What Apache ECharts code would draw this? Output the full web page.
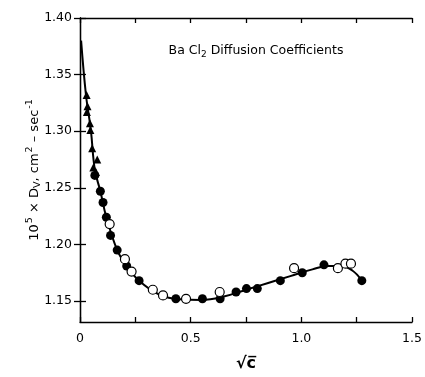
<!DOCTYPE html>
<html>
<head>
<meta charset="utf-8">
<script src="https://cdn.jsdelivr.net/npm/echarts@6/dist/echarts.min.js"></script>
<style>
  html, body { margin: 0; padding: 0; background: #fff; }
  #chart { width: 425px; height: 377px; }
</style>
</head>
<body>
<div id="chart"></div>
<script>
// fitted curve
const curveX = [0.005, 0.027, 0.049, 0.067, 0.092, 0.119, 0.168, 0.211, 0.267, 0.356, 0.45, 0.55, 0.65, 0.75, 0.85, 0.95, 1.05, 1.12, 1.18, 1.23, 1.27]
const curveY = [1.380, 1.332, 1.301, 1.266, 1.247, 1.224, 1.195, 1.181, 1.168, 1.156, 1.1515, 1.151, 1.154, 1.160, 1.166, 1.172, 1.178, 1.181, 1.181, 1.177, 1.169]

// triangles
const triX = [0.030, 0.034, 0.031, 0.045, 0.047, 0.055, 0.078, 0.060, 0.072]
const triY = [1.332, 1.322, 1.317, 1.307, 1.301, 1.285, 1.275, 1.268, 1.264]

// filled circles
const dotX = [0.067, 0.092, 0.104, 0.119, 0.138, 0.168, 0.211, 0.267, 0.433, 0.553, 0.633, 0.705, 0.752, 0.801, 0.905, 1.004, 1.102, 1.273]
const dotY = [1.261, 1.247, 1.237, 1.224, 1.208, 1.195, 1.181, 1.168, 1.152, 1.152, 1.152, 1.158, 1.161, 1.161, 1.168, 1.175, 1.182, 1.168]

// open circles
const openX = [0.134, 0.203, 0.233, 0.329, 0.375, 0.479, 0.631, 0.967, 1.165, 1.199, 1.224]
const openY = [1.218, 1.187, 1.176, 1.160, 1.155, 1.152, 1.158, 1.179, 1.179, 1.183, 1.183]

const xTicks = [0, 0.25, 0.5, 0.75, 1.0, 1.25, 1.5]
const xTickLabels = ['0', '', '0.5', '', '1.0', '', '1.5']
const yTicks = [1.15, 1.20, 1.25, 1.30, 1.35, 1.40]
const yTickLabels = ['1.15', '1.20', '1.25', '1.30', '1.35', '1.40']

const zip = (xs, ys) => xs.map((x, i) => [x, ys[i]])

const font = '"DejaVu Sans", sans-serif'
const black = '#000'
const lineStyle = { color: black, width: 1.3 }

const chart = echarts.init(document.getElementById('chart'))
chart.setOption({
  animation: false,
  grid: { left: 80, right: 8, top: 18, bottom: 54 },
  title: {
    text: 'Ba Cl{sub|2} Diffusion Coefficients',
    left: 251,
    top: 37,
    textAlign: 'center',
    textStyle: {
      fontFamily: font,
      fontSize: 12.5,
      fontWeight: 'normal',
      color: black,
      rich: {
        sub: { fontFamily: font, fontSize: 9, color: black, padding: [8, 0, 0, 0] }
      }
    }
  },
  xAxis: [{
    type: 'value',
    min: 0,
    max: 1.5,
    interval: 0.25,
    splitLine: { show: false },
    axisLine: { lineStyle },
    axisTick: { inside: true, length: 5, lineStyle },
    axisLabel: {
      margin: 10,
      fontFamily: font,
      fontSize: 12.5,
      color: black,
      formatter: v => xTickLabels[xTicks.findIndex(t => Math.abs(t - v) < 1e-6)] || ''
    },
    name: '√c̅',
    nameLocation: 'middle',
    nameGap: 34,
    nameTextStyle: { fontFamily: font, fontSize: 16, fontWeight: 'bold', color: black }
  }, {
    type: 'value',
    position: 'top',
    min: 0,
    max: 1.5,
    interval: 0.25,
    splitLine: { show: false },
    axisLine: { lineStyle },
    axisTick: { inside: true, length: 5, lineStyle },
    axisLabel: { show: false }
  }],
  yAxis: [{
    type: 'value',
    min: 1.1315,
    max: 1.40,
    splitLine: { show: false },
    axisLine: { show: true, lineStyle },
    axisTick: { inside: true, length: 6, lineStyle, customValues: yTicks },
    axisLabel: {
      margin: 8,
      fontFamily: font,
      fontSize: 12.5,
      color: black,
      customValues: yTicks,
      formatter: v => yTickLabels[yTicks.findIndex(t => Math.abs(t - v) < 1e-6)] || ''
    },
    name: '10{sup|5} × D{sub|V}, cm{sup|2} – sec{sup|-1}',
    nameLocation: 'middle',
    nameGap: 36,
    nameMoveOverlap: false,
    nameTextStyle: {
      fontFamily: font,
      fontSize: 13,
      color: black,
      rich: {
        sup: { fontFamily: font, fontSize: 9.5, color: black, padding: [0, 0, 9, 1] },
        sub: { fontFamily: font, fontSize: 9.5, color: black, padding: [7, 0, 0, 0] }
      }
    }
  }, {
    type: 'value',
    position: 'right',
    min: 1.1315,
    max: 1.40,
    splitLine: { show: false },
    axisLine: { show: true, lineStyle },
    axisTick: { inside: true, length: 6, lineStyle, customValues: yTicks },
    axisLabel: { show: false }
  }],
  series: [{
    type: 'line',
    data: zip(curveX, curveY),
    smooth: 0.4,
    showSymbol: false,
    lineStyle: { color: black, width: 2 },
    z: 1
  }, {
    type: 'scatter',
    data: zip(triX, triY),
    symbol: 'triangle',
    symbolSize: 8,
    itemStyle: { color: black, opacity: 1 },
    z: 2
  }, {
    type: 'scatter',
    data: zip(dotX, dotY),
    symbol: 'circle',
    symbolSize: 9,
    itemStyle: { color: black, opacity: 1 },
    z: 3
  }, {
    type: 'scatter',
    data: zip(openX, openY),
    symbol: 'circle',
    symbolSize: 9,
    itemStyle: { color: '#fff', borderColor: black, borderWidth: 1.2, opacity: 1 },
    z: 4
  }]
})
</script>
</body>
</html>
